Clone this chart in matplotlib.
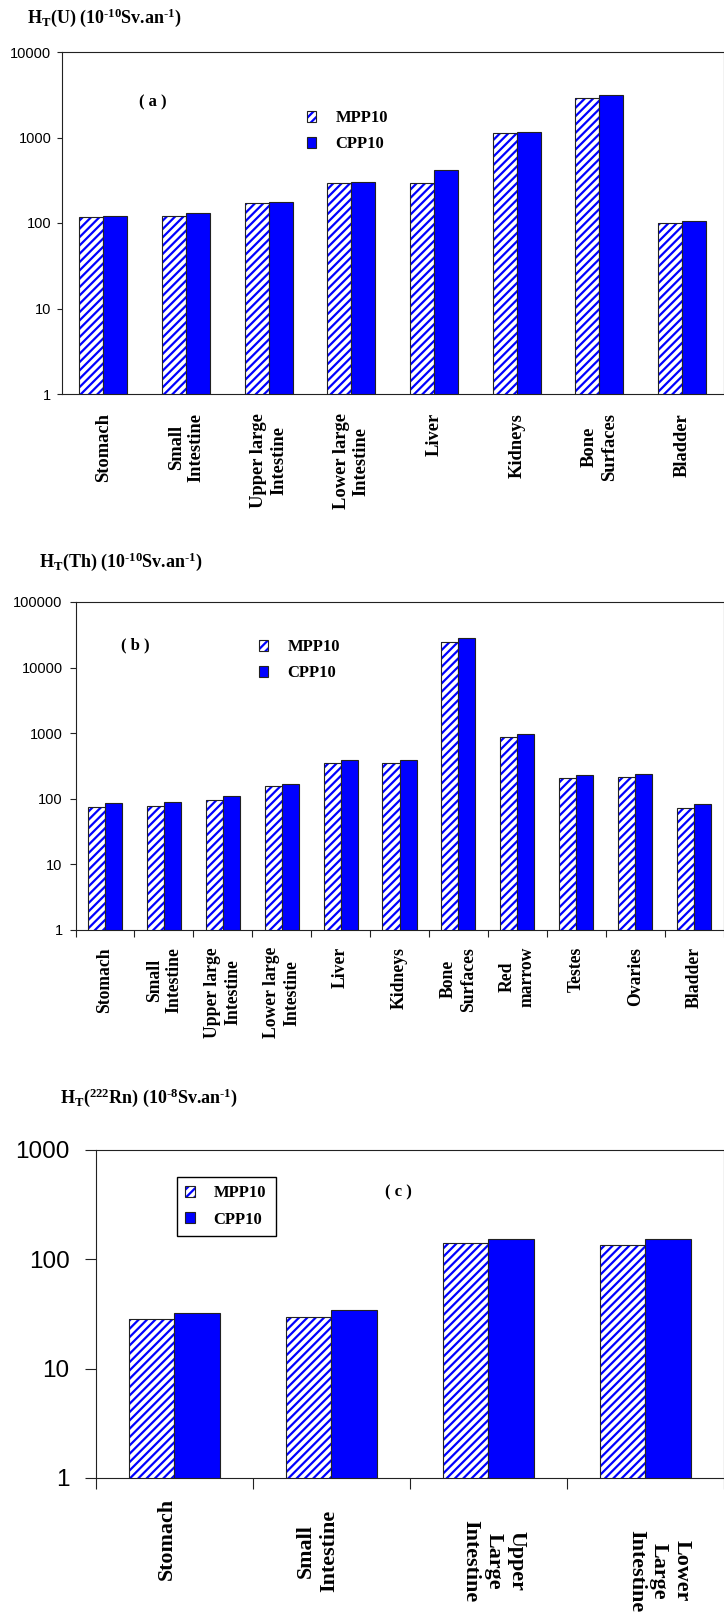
import numpy as np
import matplotlib.pyplot as plt
from matplotlib.patches import Patch

plt.rcParams['mathtext.fontset'] = 'custom'
plt.rcParams['mathtext.rm'] = 'Liberation Serif:bold'
plt.rcParams['mathtext.it'] = 'Liberation Serif:bold'
plt.rcParams['mathtext.bf'] = 'Liberation Serif:bold'
plt.rcParams['mathtext.default'] = 'rm'
plt.rcParams['hatch.linewidth'] = 1.6

# data
organs_u = ['Stomach', 'Small\nIntestine', 'Upper large\nIntestine', 'Lower large\nIntestine',
            'Liver', 'Kidneys', 'Bone\nSurfaces', 'Bladder']
mpp_u = [117, 122, 171, 296, 296, 1130, 2920, 101]
cpp_u = [122, 130, 178, 304, 413, 1160, 3110, 105]
yticks_u = [1, 10, 100, 1000, 10000]

organs_th = ['Stomach', 'Small\nIntestine', 'Upper large\nIntestine', 'Lower large\nIntestine',
             'Liver', 'Kidneys', 'Bone\nSurfaces', 'Red\nmarrow', 'Testes', 'Ovaries', 'Bladder']
mpp_th = [74.5, 78, 96, 157, 357, 357, 24500, 860, 204, 214, 72]
cpp_th = [85, 89, 111, 171, 393, 393, 28200, 980, 232, 243, 82]
yticks_th = [1, 10, 100, 1000, 10000, 100000]

organs_rn = ['Stomach', 'Small\nIntestine', 'Upper\nLarge\nIntestine', 'Lower\nLarge\nIntestine']
mpp_rn = [28.3, 29.9, 140.6, 135.8]
cpp_rn = [32.1, 34.4, 155, 155]
yticks_rn = [1, 10, 100, 1000]

series = ['MPP10', 'CPP10']
BLUE = '#0000ff'
EDGE = '#222222'
SERIF = 'Liberation Serif'
SANS = 'Liberation Sans'
HATCH = '////'

W, H = 724, 1612
fig = plt.figure(figsize=(W / 100, H / 100), dpi=100)


def px_axes(l, t, r, b):
    return fig.add_axes([l / W, 1 - b / H, (r - l) / W, (b - t) / H])


def draw_panel(ax, labels, mpp, cpp, yticks, tick_fs, ylen, ypad, xlen):
    x = np.arange(len(labels)) + 0.5
    bw = 0.29
    ax.set_yscale('log')
    ax.bar(x - bw / 2, mpp, bw, color='white', edgecolor=BLUE, hatch=HATCH, linewidth=0)
    ax.bar(x - bw / 2, mpp, bw, fill=False, edgecolor=EDGE, linewidth=0.8)
    ax.bar(x + bw / 2, cpp, bw, color=BLUE, edgecolor=EDGE, linewidth=0.8)
    ax.set_xlim(0, len(labels))
    ax.set_ylim(yticks[0], yticks[-1])
    ax.set_yticks(yticks, [str(v) for v in yticks])
    ax.yaxis.set_minor_locator(plt.NullLocator())
    ax.tick_params(axis='y', length=ylen, pad=ypad, labelsize=tick_fs, width=0.8, color=EDGE)
    for lab in ax.get_yticklabels():
        lab.set_family(SANS)
    if xlen > 0:
        ax.set_xticks(np.arange(len(labels) + 1), [''] * (len(labels) + 1))
        ax.tick_params(axis='x', length=xlen, width=0.8, color=EDGE)
    else:
        ax.set_xticks([])
    for s in ax.spines.values():
        s.set_linewidth(0.8)
        s.set_color(EDGE)
    return x


def cat_labels(ax, x, labels, fs, gaps, rots, dx):
    for xi, lab, g, r, d in zip(x, labels, gaps, rots, dx):
        ax.annotate(lab, xy=(xi, 0), xycoords=ax.get_xaxis_transform(),
                    xytext=(d, -g), textcoords='offset pixels', rotation=r,
                    ha='center', va='top', multialignment='center',
                    fontsize=fs, fontweight='bold', family=SERIF)


def legend(ax, x0, y0, frame=False, width=None):
    handles = [(Patch(facecolor='white', edgecolor=BLUE, hatch=HATCH, linewidth=0),
                Patch(fill=False, edgecolor=EDGE, linewidth=0.8)),
               Patch(facecolor=BLUE, edgecolor=EDGE, linewidth=0.8)]
    kw = dict(loc='upper left', bbox_transform=fig.transFigure, handlelength=0.55,
              handleheight=0.65, handletextpad=1.15, labelspacing=0.62,
              borderaxespad=0, prop={'family': SERIF, 'weight': 'bold', 'size': 12})
    if frame:
        leg = ax.legend(handles, series, bbox_to_anchor=(x0 / W, 1 - y0 / H, width / W, 0),
                        mode='expand', frameon=True, fancybox=False, framealpha=1,
                        edgecolor='black', borderpad=0.5, **kw)
        leg.get_frame().set_linewidth(1.0)
    else:
        leg = ax.legend(handles, series, bbox_to_anchor=(x0 / W, 1 - y0 / H),
                        frameon=False, borderpad=0, **kw)
    return leg


def fig_text(x, y, s, fs):
    fig.text(x / W, 1 - y / H, s, ha='left', va='center', fontsize=fs,
             fontweight='bold', family=SERIF)


# panel (a)
ax1 = px_axes(62, 52, 723.5, 394)
xa = draw_panel(ax1, organs_u, mpp_u, cpp_u, yticks_u, 10.5, 3.3, 4.3, 0)
cat_labels(ax1, xa, organs_u, 13.3, [19] * 8, [90] * 8, [0] * 8)
legend(ax1, 307, 110)
fig_text(27, 18, r'H$_{T}$(U) (10$^{\text{-10}}$Sv.an$^{\text{-1}}$)', 13)
fig_text(139, 102, '( a )', 12)

# panel (b)
ax2 = px_axes(75.5, 602, 723.5, 930)
xb = draw_panel(ax2, organs_th, mpp_th, cpp_th, yticks_th, 10.5, 4.3, 5, 5)
cat_labels(ax2, xb, organs_th, 12.7, [17] * 11, [90] * 11, [0] * 11)
legend(ax2, 259, 639)
fig_text(39, 562, r'H$_{T}$(Th) (10$^{\text{-10}}$Sv.an$^{\text{-1}}$)', 13)
fig_text(121, 645, '( b )', 12)

# panel (c)
ax3 = px_axes(96, 1150, 723.5, 1478)
xc = draw_panel(ax3, organs_rn, mpp_rn, cpp_rn, yticks_rn, 17.5, 8, 11, 8)
cat_labels(ax3, xc, organs_rn, 15.8, [20, 32, 42, 52], [90, 90, 270, 270], [-8, -14, 5, 14])
legend(ax3, 177, 1177, frame=True, width=99)
fig_text(60, 1098, r'H$_{T}$($^{222}$Rn) (10$^{\text{-8}}$Sv.an$^{\text{-1}}$)', 13)
fig_text(385, 1192, '( c )', 12)

fig.savefig('out.png', dpi=100)
